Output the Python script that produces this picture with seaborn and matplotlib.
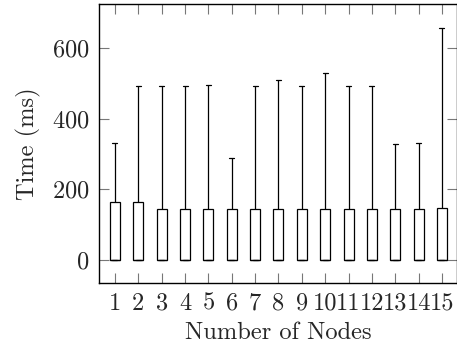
import matplotlib
matplotlib.use("Agg")
import matplotlib.pyplot as plt
import seaborn as sns
import pandas as pd

nodes = list(range(1, 16))
box_low = [0] * 15
box_median = [0] * 15
box_high = [165, 165, 144, 143, 143, 143, 143, 143, 143, 143, 145, 145, 143, 143, 146]
whisker_high = [332, 493, 493, 491, 494, 288, 493, 510, 491, 530, 493, 493, 328, 332, 656]
y_ticks = [0, 200, 400, 600]

rows = []
for n, lo, md, hi, mx in zip(nodes, box_low, box_median, box_high, whisker_high):
    for v in (lo, lo, md, hi, mx):
        rows.append({"nodes": n, "time": v})
df = pd.DataFrame(rows)

sns.set_style("ticks")
plt.rcParams["font.family"] = ["cmr10", "DejaVu Serif"]
plt.rcParams["axes.formatter.use_mathtext"] = True

fig = plt.figure(figsize=(4.57, 3.45), dpi=100)
ax = fig.add_axes([0.2173, 0.1797, 0.7820, 0.8087])

sns.boxplot(data=df, x="nodes", y="time", native_scale=True, whis=(0, 100),
            width=0.43, color="white", linecolor="black", linewidth=0.9,
            showfliers=False, ax=ax)

ax.set_xlim(0.33, 15.63)
ax.set_ylim(-65, 724)
ax.set_xticks(nodes)
ax.set_xticklabels([str(n) for n in nodes])
ax.set_yticks(y_ticks)
ax.tick_params(direction="in", top=True, right=True, length=7.5, width=0.8,
               color="#777777", labelsize=17.6, pad=7)
for s in ax.spines.values():
    s.set_linewidth(1.0)
    s.set_color("black")
    s.set_visible(True)
ax.set_xlabel("Number of Nodes", fontsize=17.6, labelpad=5)
ax.set_ylabel("Time (ms)", fontsize=17.6, labelpad=8)

fig.savefig("out.png", dpi=100)
